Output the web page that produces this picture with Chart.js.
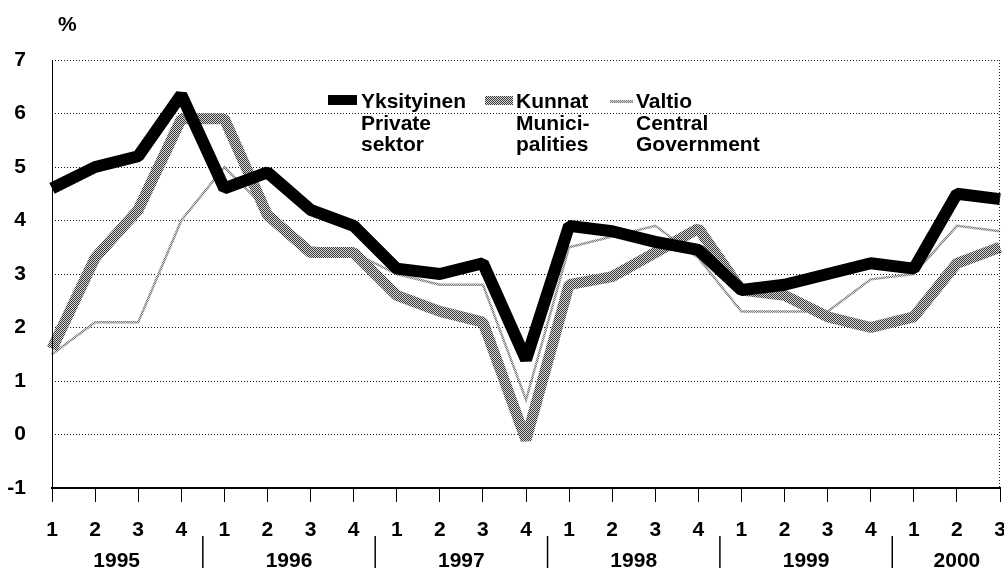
<!DOCTYPE html>
<html>
<head>
<meta charset="utf-8">
<script src="https://cdn.jsdelivr.net/npm/chart.js@4.4.0/dist/chart.umd.min.js"></script>
<style>
    html, body { margin: 0; padding: 0; background: #fff; }
    #wrap { width: 1004px; height: 570px; position: relative; }
</style>
</head>
<body>
<div id="wrap"><canvas id="chart" width="1004" height="570"></canvas></div>
<script>
// quarters 1995 Q1 .. 2000 Q3
const quarters = ['1','2','3','4', '1','2','3','4', '1','2','3','4', '1','2','3','4', '1','2','3','4', '1','2','3'];
const years = ['1995', '1996', '1997', '1998', '1999', '2000'];

const privateSector = [4.6, 5.0, 5.2, 6.35, 4.6, 4.9, 4.2, 3.9, 3.1, 3.0, 3.2, 1.4, 3.9, 3.8, 3.6, 3.45, 2.7, 2.8, 3.0, 3.2, 3.1, 4.5, 4.4];
const municipalities = [1.6, 3.3, 4.2, 5.9, 5.9, 4.1, 3.4, 3.4, 2.6, 2.3, 2.1, -0.1, 2.8, 2.95, 3.4, 3.85, 2.7, 2.6, 2.2, 2.0, 2.2, 3.2, 3.5];
const centralGov = [1.5, 2.1, 2.1, 4.0, 5.0, 4.2, 3.5, 3.4, 3.0, 2.8, 2.8, 0.65, 3.5, 3.7, 3.9, 3.3, 2.3, 2.3, 2.3, 2.9, 3.0, 3.9, 3.8];

const legendItems = [
    { lines: ['Yksityinen', 'Private', 'sektor'] },
    { lines: ['Kunnat', 'Munici-', 'palities'] },
    { lines: ['Valtio', 'Central', 'Government'] }
];

const FONT = 'bold 21px "Liberation Sans", Arial, sans-serif';

// dithered grey like the printed original
function ditherPattern(dark, light) {
    const c = document.createElement('canvas');
    c.width = 2; c.height = 2;
    const g = c.getContext('2d');
    g.fillStyle = light; g.fillRect(0, 0, 2, 2);
    g.fillStyle = dark; g.fillRect(0, 0, 1, 1); g.fillRect(1, 1, 1, 1);
    return g.createPattern(c, 'repeat');
}
const canvas = document.getElementById('chart');
const ctx = canvas.getContext('2d');
const greyPattern = ditherPattern('#3c3c3c', '#d4d4d4');
const lightPattern = ditherPattern('#777777', '#d8d8d8');

const decor = {
    id: 'decor',
    afterDraw(chart) {
        const c = chart.ctx;
        const area = chart.chartArea;
        const x = chart.scales.x;
        c.save();

        // right frame, dotted
        c.strokeStyle = '#222';
        c.lineWidth = 1;
        c.setLineDash([1, 2]);
        c.beginPath();
        c.moveTo(area.right - 0.5, area.top);
        c.lineTo(area.right - 0.5, area.bottom);
        c.stroke();
        c.setLineDash([]);

        // left frame, solid
        c.strokeStyle = '#000';
        c.beginPath();
        c.moveTo(area.left + 0.5, area.top);
        c.lineTo(area.left + 0.5, area.bottom);
        c.stroke();

        c.font = FONT;
        c.fillStyle = '#000';
        c.textBaseline = 'middle';
        c.textAlign = 'left';
        c.fillText('%', 58, 25);

        // year labels and separators
        const starts = [];
        quarters.forEach((q, i) => { if (q === '1') starts.push(i); });
        c.textAlign = 'center';
        c.lineWidth = 1.5;
        starts.forEach((s, k) => {
            const e = k + 1 < starts.length ? starts[k + 1] - 1 : quarters.length - 1;
            const cx = (x.getPixelForValue(s) + x.getPixelForValue(e)) / 2;
            c.fillText(years[k], cx, 561);
            if (k + 1 < starts.length) {
                const sx = (x.getPixelForValue(e) + x.getPixelForValue(e + 1)) / 2;
                c.beginPath();
                c.moveTo(sx, 536);
                c.lineTo(sx, 568);
                c.stroke();
            }
        });

        // legend
        c.textAlign = 'left';
        c.textBaseline = 'alphabetic';
        c.fillStyle = '#000';
        c.fillRect(328, 95, 29, 10);
        c.fillStyle = greyPattern;
        c.fillRect(485, 96, 28, 9);
        c.fillStyle = lightPattern;
        c.fillRect(610, 100, 23, 3);
        const cols = [361, 516, 636];
        const rows = [108, 130, 151];
        c.fillStyle = '#000';
        legendItems.forEach((item, i) => {
            item.lines.forEach((t, j) => c.fillText(t, cols[i], rows[j]));
        });
        c.restore();
    }
};

new Chart(ctx, {
    type: 'line',
    data: {
        labels: quarters,
        datasets: [
            {
                label: 'Yksityinen',
                data: privateSector,
                borderColor: '#000',
                borderWidth: 12,
                borderJoinStyle: 'bevel',
                pointRadius: 0,
                tension: 0,
                order: 1
            },
            {
                label: 'Kunnat',
                data: municipalities,
                borderColor: greyPattern,
                borderWidth: 11,
                borderJoinStyle: 'bevel',
                pointRadius: 0,
                tension: 0,
                order: 2
            },
            {
                label: 'Valtio',
                data: centralGov,
                borderColor: lightPattern,
                borderWidth: 2.5,
                pointRadius: 0,
                tension: 0,
                order: 3
            }
        ]
    },
    options: {
        responsive: false,
        devicePixelRatio: 1,
        animation: false,
        layout: { padding: { top: 60, right: 4, left: 0, bottom: 0 } },
        plugins: {
            legend: { display: false },
            tooltip: { enabled: false }
        },
        scales: {
            x: {
                offset: false,
                afterFit: (s) => { s.height = 82; s.paddingLeft = 0; s.paddingRight = 0; },
                grid: { drawOnChartArea: false, drawTicks: true, tickLength: 14, color: '#000', lineWidth: 1 },
                border: { display: true, color: '#000', width: 2 },
                ticks: {
                    autoSkip: false,
                    maxRotation: 0,
                    padding: 16,
                    color: '#000',
                    font: { family: '"Liberation Sans", Arial, sans-serif', size: 21, weight: 'bold' }
                }
            },
            y: {
                min: -1,
                max: 7,
                afterFit: (s) => { s.width = 52; },
                grid: { drawTicks: false, color: '#111', lineWidth: 1 },
                border: { display: false, dash: [1, 2] },
                ticks: {
                    stepSize: 1,
                    padding: 26,
                    color: '#000',
                    font: { family: '"Liberation Sans", Arial, sans-serif', size: 21, weight: 'bold' }
                }
            }
        }
    },
    plugins: [decor]
});
</script>
</body>
</html>
